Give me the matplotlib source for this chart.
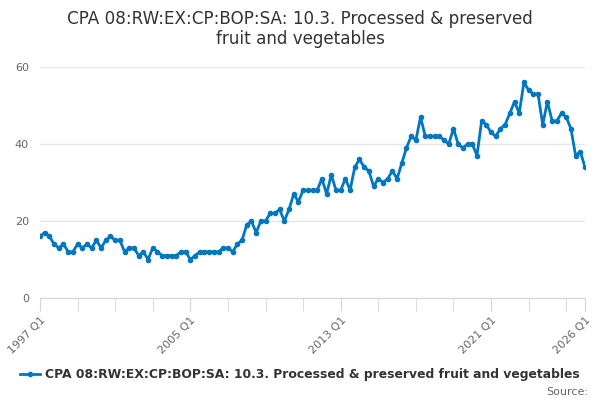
import matplotlib
matplotlib.use('Agg')
import matplotlib.pyplot as plt

# quarterly values, 1997 Q1 .. 2026 Q1
values = [16, 17, 16, 14, 13, 14, 12, 12, 14, 13, 14, 13, 15, 13, 15, 16, 15, 15, 12, 13,
          13, 11, 12, 10, 13, 12, 11, 11, 11, 11, 12, 12, 10, 11, 12, 12, 12, 12, 12, 13,
          13, 12, 14, 15, 19, 20, 17, 20, 20, 22, 22, 23, 20, 23, 27, 25, 28, 28, 28, 28,
          31, 27, 32, 28, 28, 31, 28, 34, 36, 34, 33, 29, 31, 30, 31, 33, 31, 35, 39, 42,
          41, 47, 42, 42, 42, 42, 41, 40, 44, 40, 39, 40, 40, 37, 46, 45, 43, 42, 44, 45,
          48, 51, 48, 56, 54, 53, 53, 45, 51, 46, 46, 48, 47, 44, 37, 38, 34]
quarters = [f'{1997 + i // 4} Q{i % 4 + 1}' for i in range(len(values))]
label_quarters = ['1997 Q1', '2005 Q1', '2013 Q1', '2021 Q1', '2026 Q1']
y_ticks = [0, 20, 40, 60]
series_name = 'CPA 08:RW:EX:CP:BOP:SA: 10.3. Processed & preserved fruit and vegetables'
title = 'CPA 08:RW:EX:CP:BOP:SA: 10.3. Processed & preserved\nfruit and vegetables'

x = list(range(len(values)))

fig = plt.figure(figsize=(6, 4), dpi=100)
ax = fig.add_axes([40 / 600, 1 - 298 / 400, 545 / 600, 231 / 400])

line, = ax.plot(x, values, color='#0077c0', lw=2, marker='o', ms=3, label=series_name)

ax.set_xlim(0, len(values) - 1)
ax.set_ylim(0, 60)
ax.set_yticks(y_ticks)
ax.yaxis.grid(True, color='#e6e6e6', lw=1)
ax.set_axisbelow(True)
for s in ['top', 'right', 'left']:
    ax.spines[s].set_visible(False)
ax.spines['bottom'].set_color('#ccd6eb')
ax.tick_params(axis='y', length=0, labelsize=8, labelcolor='#666666', pad=8)

minor_pos = list(range(0, len(values), 8)) + [len(values) - 1]
ax.set_xticks(minor_pos, minor=True)
ax.set_xticks([quarters.index(q) for q in label_quarters])
ax.set_xticklabels(label_quarters, rotation=45, ha='right', rotation_mode='anchor')
ax.tick_params(axis='x', which='both', length=9, color='#ccd6eb', labelsize=8,
               labelcolor='#666666')

fig.text(0.5, 0.975, title, ha='center', va='top', fontsize=12.1, color='#333333',
         linespacing=1.15)
fig.legend(handles=[line], loc='lower center', bbox_to_anchor=(0.5, 0.035), frameon=False,
           prop={'size': 8.9, 'weight': 'bold'}, labelcolor='#333333', handlelength=1.6,
           handletextpad=0.4, borderaxespad=0)
fig.text(0.98, 0.008, 'Source:', ha='right', va='bottom', fontsize=8, color='#666666')

fig.savefig('out.png', dpi=100)
